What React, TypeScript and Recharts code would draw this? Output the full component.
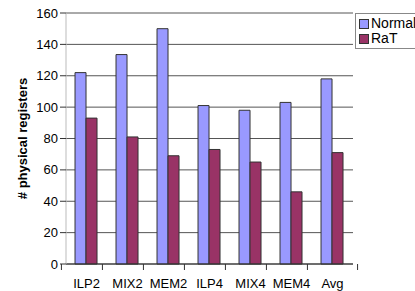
import React from 'react';
import { BarChart, Bar, XAxis, YAxis, CartesianGrid, Legend } from 'recharts';

const categories = ['ILP2', 'MIX2', 'MEM2', 'ILP4', 'MIX4', 'MEM4', 'Avg'];
const normal = [122, 133.5, 150, 101, 98, 103, 118];
const rat = [93, 81, 69, 73, 65, 46, 71];
const yTicks = [0, 20, 40, 60, 80, 100, 120, 140, 160];

const data = categories.map((name, i) => ({ name, Normal: normal[i], RaT: rat[i] }));

const W = 415;
const H = 291;
const X_AXIS_H = 27;
const AXIS_Y = H - X_AXIS_H;
const PLOT_LEFT = 66;
const PLOT_RIGHT = 417;
const HALF_BAND = (PLOT_RIGHT - PLOT_LEFT) / categories.length / 2;
const font = 'Liberation Sans, Arial, sans-serif';

const XTick = (props: any) => {
  const { x, payload } = props;
  return (
    <g>
      <line x1={x - HALF_BAND} x2={x - HALF_BAND} y1={AXIS_Y} y2={AXIS_Y + 6} stroke="#333" />
      {payload.index === categories.length - 1 && (
        <line x1={x + HALF_BAND} x2={x + HALF_BAND} y1={AXIS_Y} y2={AXIS_Y + 6} stroke="#333" />
      )}
      <text x={x} y={AXIS_Y + 24} textAnchor="middle" fontSize={13} fontFamily={font} fill="#000">
        {payload.value}
      </text>
    </g>
  );
};

const LegendBox = () => (
  <div
    style={{
      border: '1px solid #888',
      background: '#fff',
      width: 64,
      padding: '2px 0 2px 3px',
      fontFamily: font,
      fontSize: 14,
      lineHeight: '15px',
      boxSizing: 'border-box',
    }}
  >
    {[
      { label: 'Normal', color: '#9999ff' },
      { label: 'RaT', color: '#993366' },
    ].map((it) => (
      <div key={it.label} style={{ display: 'flex', alignItems: 'center', whiteSpace: 'nowrap' }}>
        <span
          style={{
            display: 'inline-block',
            width: 8,
            height: 8,
            background: it.color,
            border: '1px solid #333',
            marginRight: 2,
          }}
        />
        {it.label}
      </div>
    ))}
  </div>
);

export default function App() {
  return (
    <div style={{ position: 'absolute', left: 0, top: 0, width: W, height: H, background: '#fff', overflow: 'hidden' }}>
      <BarChart
        width={W}
        height={H}
        data={data}
        margin={{ top: 13, right: W - PLOT_RIGHT, bottom: 0, left: 0 }}
        barCategoryGap="22%"
        barGap={0}
      >
        <CartesianGrid vertical={false} stroke="#555" />
        <XAxis
          dataKey="name"
          height={X_AXIS_H}
          axisLine={{ stroke: '#333' }}
          tickLine={false}
          tick={<XTick />}
          interval={0}
        />
        <YAxis
          width={PLOT_LEFT}
          domain={[0, 160]}
          ticks={yTicks}
          axisLine={{ stroke: '#bbb' }}
          tickLine={{ stroke: '#333' }}
          tick={{ fontSize: 13, fill: '#000', fontFamily: font }}
          label={{
            value: '# physical registers',
            angle: -90,
            position: 'center',
            dx: -11,
            style: { fontSize: 13, fontWeight: 'bold', fill: '#000', fontFamily: font },
          }}
        />
        <Legend
          verticalAlign="top"
          align="right"
          layout="vertical"
          content={<LegendBox />}
          wrapperStyle={{ top: 13, left: 355, width: 64 }}
        />
        <Bar dataKey="Normal" fill="#9999ff" stroke="#333" strokeWidth={1} isAnimationActive={false} />
        <Bar dataKey="RaT" fill="#993366" stroke="#333" strokeWidth={1} isAnimationActive={false} />
      </BarChart>
    </div>
  );
}
